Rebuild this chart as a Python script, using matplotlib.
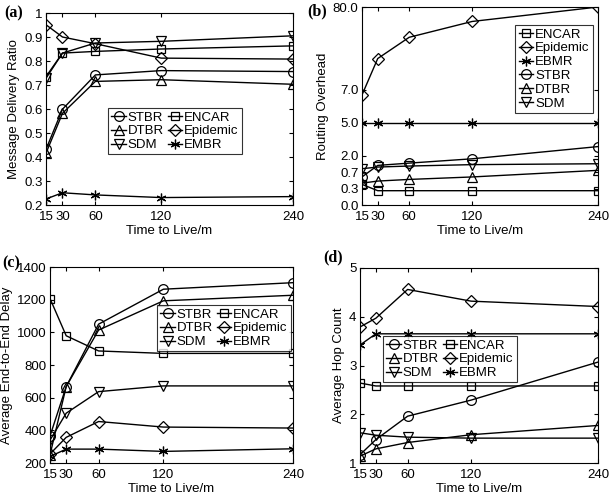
import numpy as np
import matplotlib
matplotlib.use("Agg")
import matplotlib.pyplot as plt

plt.rcParams['font.family'] = ['Liberation Sans', 'DejaVu Sans']

ttl = [15, 30, 60, 120, 240]
xticks = [15, 30, 60, 120, 240]

# (a) Message Delivery Ratio
a_stbr = [0.432, 0.599, 0.742, 0.760, 0.756]
a_dtbr = [0.416, 0.582, 0.715, 0.722, 0.703]
a_sdm = [0.728, 0.833, 0.875, 0.882, 0.905]
a_encar = [0.735, 0.833, 0.840, 0.850, 0.863]
a_epidemic = [0.951, 0.900, 0.872, 0.812, 0.808]
a_embr = [0.225, 0.251, 0.242, 0.231, 0.235]

# (b) Routing Overhead
b_encar = [0.40, 0.26, 0.26, 0.26, 0.26]
b_epidemic = [6.67, 34.4, 53.2, 67.2, 80.0]
b_ebmr = [5.0, 5.0, 5.0, 5.0, 5.0]
b_stbr = [0.58, 1.22, 1.40, 1.74, 2.81]
b_dtbr = [0.43, 0.48, 0.52, 0.58, 0.83]
b_sdm = [0.96, 1.09, 1.17, 1.28, 1.35]
b_ticks = [0.0, 0.3, 0.7, 2.0, 5.0, 7.0, 80.0]
b_tickpos = [0, 1, 2, 3, 5, 7, 12]

# (c) Average End-to-End Delay
c_stbr = [365, 668, 1050, 1264, 1304]
c_dtbr = [250, 668, 1014, 1193, 1227]
c_sdm = [340, 505, 637, 672, 672]
c_encar = [1207, 979, 886, 871, 871]
c_epidemic = [255, 357, 454, 420, 414]
c_ebmr = [240, 285, 285, 271, 287]

# (d) Average Hop Count
d_stbr = [1.17, 1.48, 1.96, 2.29, 3.07]
d_dtbr = [1.14, 1.29, 1.42, 1.58, 1.77]
d_sdm = [1.62, 1.57, 1.53, 1.51, 1.51]
d_encar = [2.64, 2.58, 2.58, 2.58, 2.58]
d_epidemic = [3.79, 3.97, 4.56, 4.32, 4.21]
d_ebmr = [3.42, 3.65, 3.65, 3.65, 3.65]

W, H = 610, 499
fig = plt.figure(figsize=(W / 100, H / 100), dpi=100)
FS = 9.5


def add_ax(l, r, t, b):
    return fig.add_axes([l / W, 1 - b / H, (r - l) / W, (b - t) / H])


STAR = (6, 2, 0)
mk = dict(STBR='o', DTBR='^', SDM='v', ENCAR='s', Epidemic='D', EMBR=STAR, EBMR=STAR)
msz = dict(STBR=7, DTBR=7, SDM=7, ENCAR=6, Epidemic=6, EMBR=7, EBMR=7)


def plot_series(ax, name, y):
    m = mk[name]
    return ax.plot(ttl, y, color='black', lw=1.0, marker=m, ms=msz[name],
                   mfc='none', mec='black', mew=0.9, label=name)[0]


def style(ax, ylabel):
    ax.set_xlim(15, 240)
    ax.set_xticks(xticks)
    ax.set_xticklabels([str(v) for v in xticks])
    ax.tick_params(direction='in', top=True, right=True, labelsize=FS, length=3, pad=2.5)
    ax.tick_params(axis='x', pad=4.5)
    ax.set_xlabel('Time to Live/m', fontsize=FS, labelpad=1.5)
    ax.set_ylabel(ylabel, fontsize=FS, labelpad=3)
    for s in ax.spines.values():
        s.set_linewidth(0.8)


def legend(ax, handles, anchor, loc, ncol):
    lg = ax.legend(handles=handles, loc=loc, ncol=ncol,
                   bbox_to_anchor=(anchor[0] / W, 1 - anchor[1] / H),
                   bbox_transform=fig.transFigure, borderaxespad=0,
                   fontsize=FS, frameon=True, fancybox=False, edgecolor='black',
                   handlelength=1.1, handletextpad=0.15, columnspacing=0.3,
                   labelspacing=0.12, borderpad=0.25)
    lg.get_frame().set_linewidth(0.8)


PL = dict(family='Liberation Serif', weight='bold', fontsize=11.5, va='center')

# (a)
ax = add_ax(46, 293, 13, 205)
h = [plot_series(ax, n, y) for n, y in [('STBR', a_stbr), ('DTBR', a_dtbr), ('SDM', a_sdm),
                                         ('ENCAR', a_encar), ('Epidemic', a_epidemic), ('EMBR', a_embr)]]
ax.set_ylim(0.2, 1.0)
ax.set_yticks(np.arange(0.2, 1.01, 0.1))
ax.set_yticklabels(['0.2', '0.3', '0.4', '0.5', '0.6', '0.7', '0.8', '0.9', '1'])
style(ax, 'Message Delivery Ratio')
legend(ax, h, (108, 108), 'upper left', 2)
fig.text(4 / W, 1 - 13 / H, '(a)', **PL)

# (b)
ax = add_ax(362, 598, 7, 205)


def fwd(v):
    return np.interp(v, b_ticks, b_tickpos)


def inv(p):
    return np.interp(p, b_tickpos, b_ticks)


ax.set_yscale('function', functions=(fwd, inv))
h = [plot_series(ax, n, y) for n, y in [('ENCAR', b_encar), ('Epidemic', b_epidemic), ('EBMR', b_ebmr),
                                         ('STBR', b_stbr), ('DTBR', b_dtbr), ('SDM', b_sdm)]]
ax.set_ylim(0, 80)
ax.set_yticks(b_ticks)
ax.set_yticklabels(['%.1f' % v for v in b_ticks])
ax.yaxis.set_minor_locator(matplotlib.ticker.NullLocator())
style(ax, 'Routing Overhead')
legend(ax, h, (593, 25), 'upper right', 1)
fig.text(307 / W, 1 - 11 / H, '(b)', **PL)

# (c)
ax = add_ax(50, 293, 267, 463)
h = [plot_series(ax, n, y) for n, y in [('STBR', c_stbr), ('DTBR', c_dtbr), ('SDM', c_sdm),
                                         ('ENCAR', c_encar), ('Epidemic', c_epidemic), ('EBMR', c_ebmr)]]
ax.set_ylim(200, 1400)
ax.set_yticks(np.arange(200, 1401, 200))
style(ax, 'Average End-to-End Delay')
legend(ax, h, (157, 305), 'upper left', 2)
fig.text(2 / W, 1 - 263 / H, '(c)', **PL)

# (d)
ax = add_ax(360, 598, 268, 463)
h = [plot_series(ax, n, y) for n, y in [('STBR', d_stbr), ('DTBR', d_dtbr), ('SDM', d_sdm),
                                         ('ENCAR', d_encar), ('Epidemic', d_epidemic), ('EBMR', d_ebmr)]]
ax.set_ylim(1, 5)
ax.set_yticks([1, 2, 3, 4, 5])
style(ax, 'Average Hop Count')
legend(ax, h, (383, 336), 'upper left', 2)
fig.text(323 / W, 1 - 257 / H, '(d)', **PL)

fig.savefig('out.png', dpi=100)
